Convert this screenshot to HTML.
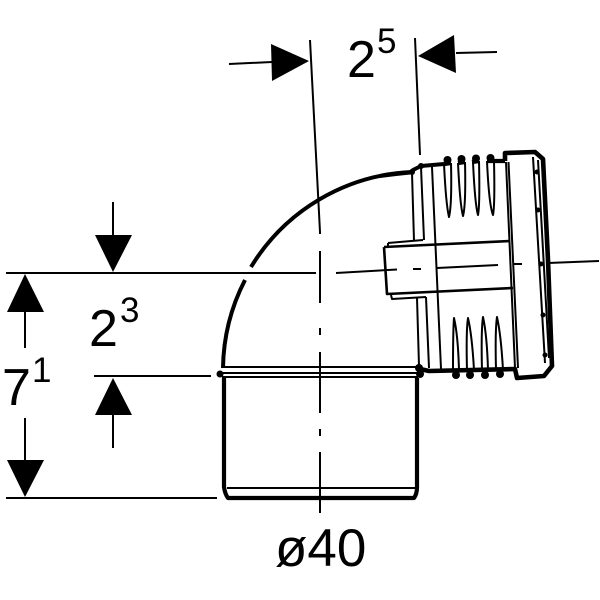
<!DOCTYPE html>
<html><head><meta charset="utf-8"><style>
html,body{margin:0;padding:0;background:#fff;width:600px;height:600px;overflow:hidden}
svg{display:block}
text{font-family:"Liberation Sans",sans-serif;fill:#000}
</style></head><body>
<svg width="600" height="600" viewBox="0 0 600 600" xmlns="http://www.w3.org/2000/svg" fill="none" stroke="#000" stroke-linejoin="round" stroke-linecap="butt">
<!-- elbow outline -->
<g stroke-width="4">
<path d="M412 172A198 198 0 0 0 251 267"/>
<path d="M245 280A198 198 0 0 0 223 368"/>
<path d="M224 377V487Q225 494 228 498H414Q417 494 417 487V378" stroke-width="4.200"/>
<path d="M380 176Q395 174 410 172.500L413 170L421 166L444 164"/>
<path d="M444 164L451 163M458 163L465 162M472 162L479 161M487 161L505 161" stroke-width="4.200"/>
<path d="M505 161V153L535 152L543 159L548 260L552 366L544 376L517 378L515 369L429 371L420 369" stroke-width="4.600"/>
</g>
<circle cx="447.500" cy="160" r="4" fill="#000" stroke="none"/>
<circle cx="461.500" cy="159" r="4" fill="#000" stroke="none"/>
<circle cx="476" cy="158.500" r="4" fill="#000" stroke="none"/>
<circle cx="490.500" cy="158" r="4" fill="#000" stroke="none"/>
<circle cx="456" cy="375" r="4" fill="#000" stroke="none"/>
<circle cx="470" cy="375" r="4" fill="#000" stroke="none"/>
<circle cx="485" cy="375" r="4" fill="#000" stroke="none"/>
<circle cx="500" cy="374" r="4" fill="#000" stroke="none"/>
<circle cx="419" cy="368" r="4" fill="#000" stroke="none"/>
<circle cx="420" cy="374" r="4" fill="#000" stroke="none"/>
<circle cx="220" cy="374" r="3.500" fill="#000" stroke="none"/>
<circle cx="412" cy="172" r="3" fill="#000" stroke="none"/>
<circle cx="421" cy="166" r="3" fill="#000" stroke="none"/>
<!-- thin details -->
<g stroke-width="2">
<path d="M224 367H417M222 373H418M222 377H418" />
<path d="M227 488H416"/>
<path d="M412 173L414 241M421 167L424 240M388 243L423 240M388 243V247"/>
<path d="M432 167L441 369"/>
<path d="M417 298L419 366M426 297L429 368M391 295L392 299L426 297"/>
<path d="M506 162L515 368M508.500 162L518 368"/>
<path d="M533 157L545 363M538 160L549 358"/>
<path d="M444 164Q446 205 449 217Q452 205 451 163"/>
<path d="M458 163Q460 205 463 216Q466 205 465 162"/>
<path d="M473 162Q475 205 478 215Q480 205 479 161"/>
<path d="M487 161Q489 205 493 215Q495 205 494 161"/>
<path d="M453 371Q453 330 454 318Q458 335 459 370"/>
<path d="M467 371Q466 330 468 318Q472 335 474 370"/>
<path d="M482 371Q481 330 483 317Q487 335 488 370"/>
<path d="M496 370Q495 330 497 317Q501 335 503 370"/>
</g>
<path d="M384 247L510 241M384 247L387 294L513 288" stroke-width="2.600"/>
<circle cx="537" cy="172" r="2.500" fill="#000" stroke="none"/>
<circle cx="538" cy="210" r="2.500" fill="#000" stroke="none"/>
<circle cx="541" cy="264" r="2.500" fill="#000" stroke="none"/>
<circle cx="543" cy="315" r="2.500" fill="#000" stroke="none"/>
<circle cx="545" cy="355" r="2.500" fill="#000" stroke="none"/>
<!-- centre lines -->
<g stroke-width="2">
<path d="M336 273L397 269.500M413 269H421M437 268L498 265M514 264H522M548 263L599 261"/>
<path d="M320 232V234M320 251V303M320 328V335M320 352V413M320 429V436M320 452V513" />
<path d="M310 40L320 232M415 38L420 155"/>
<path d="M6 273H316M94 376H211M6 498H217"/>
<path d="M229 64L272 62M456 53L497 52M113 202V236M113 415V448M25 312V348M25 418V460"/>
</g>
<!-- arrowheads -->
<g fill="#000" stroke="none">
<path d="M309 61L271 44L272 81Z"/>
<path d="M418 56L454 35L456 73Z"/>
<path d="M113 272L95 235H132Z"/>
<path d="M113 378L95 415H132Z"/>
<path d="M25 274L7 312H44Z"/>
<path d="M25 497L7 460H44Z"/>
</g>
<!-- labels -->
<g stroke="none">
<text x="347" y="77" font-size="52">2</text><text x="377" y="53" font-size="35">5</text>
<text x="89" y="346" font-size="52">2</text><text x="120" y="322" font-size="35">3</text>
<text x="2" y="405" font-size="52">7</text><text x="32" y="382" font-size="35">1</text>
<text x="275" y="566" font-size="53">ø40</text>
</g>
</svg>
</body></html>
